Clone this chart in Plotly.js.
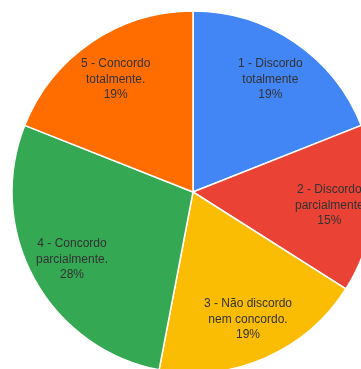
<!DOCTYPE html>
<html>
<head>
<meta charset="utf-8">
<script src="https://cdn.plot.ly/plotly-3.0.1.min.js"></script>
<style>
html,body{margin:0;padding:0;overflow:hidden;background:#fff;width:361px;height:369px;}
#chart{width:380px;height:380px;filter:blur(0.4px);}
</style>
</head>
<body>
<div id="chart"></div>
<script>
var categories = ["1 - Discordo<br>totalmente", "2 - Discordo<br>parcialmente", "3 - Não discordo<br>nem concordo.", "4 - Concordo<br>parcialmente.", "5 - Concordo<br>totalmente."];
var values = [19, 15, 19, 28, 19];
var colors = ["#4285F4", "#EA4335", "#FBBC04", "#34A853", "#FF6D01"];

var W = 380, H = 380;
var dom = {x: [12 / W, 374 / W], y: [1 - 373 / H, 1 - 11 / H]};
var trace = {
  type: "pie",
  labels: categories,
  values: values,
  sort: false,
  direction: "clockwise",
  rotation: 0,
  marker: {colors: colors, line: {color: "#ffffff", width: 1.5}},
  textinfo: "none",
  hoverinfo: "none",
  domain: dom
};

// Labels placed along each slice's bisector, derived from the data
var total = values.reduce(function (a, b) { return a + b; }, 0);
var cx = (dom.x[0] + dom.x[1]) / 2, cy = (dom.y[0] + dom.y[1]) / 2;
var rx = (dom.x[1] - dom.x[0]) / 2, ry = (dom.y[1] - dom.y[0]) / 2;
var labelRadius = 0.76;
var annotations = [];
var cum = 0;
values.forEach(function (v, i) {
  var mid = (cum + v / 2) / total * 2 * Math.PI;
  cum += v;
  annotations.push({
    xref: "paper", yref: "paper",
    x: cx + Math.sin(mid) * rx * labelRadius,
    y: cy + Math.cos(mid) * ry * labelRadius,
    text: categories[i] + "<br>" + Math.round(v / total * 100) + "%",
    showarrow: false,
    align: "center",
    xanchor: "center", yanchor: "middle",
    font: {family: "Liberation Sans, Arial, sans-serif", size: 12, color: "#333333"}
  });
});

var layout = {
  width: W, height: H,
  margin: {l: 0, r: 0, t: 0, b: 0},
  showlegend: false,
  paper_bgcolor: "#ffffff",
  annotations: annotations
};
Plotly.newPlot("chart", [trace], layout, {displayModeBar: false, staticPlot: true});
</script>
</body>
</html>
